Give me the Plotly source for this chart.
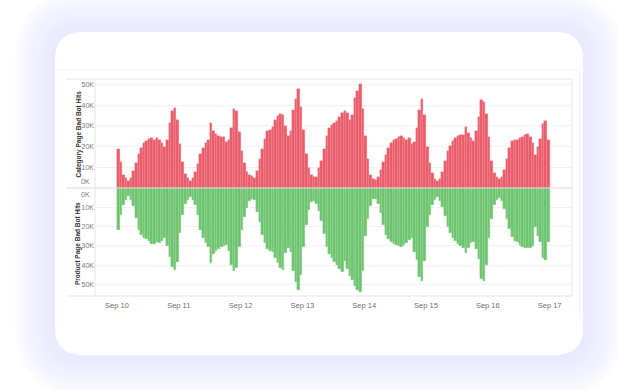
import pandas as pd
import plotly.graph_objects as go

# ---------------- data (thousands of hits, hourly, Sep 10 00:00 -> Sep 16 23:00) -------------
start_date = "2019-09-10 00:00"
n_hours = 168

category_hits_k = [
    # Sep 10
    18.7, 12.4, 6.5, 5.0, 3.4, 5.0, 8.1, 11.9, 16.4, 19.5, 21.5, 22.6, 23.6, 23.9, 23.4, 23.9, 23.1, 21.7, 19.6, 23.3, 31.5, 37.3, 38.5, 33.0,
    # Sep 11
    21.0, 12.5, 6.8, 4.8, 3.6, 5.0, 7.5, 11.5, 16.2, 19.5, 21.8, 23.0, 31.4, 27.6, 26.2, 25.3, 24.6, 24.6, 22.0, 23.2, 29.0, 38.0, 37.0, 27.0,
    # Sep 12
    18.0, 12.0, 7.5, 6.5, 5.6, 4.8, 8.0, 14.0, 19.0, 23.5, 27.5, 28.0, 29.5, 33.0, 34.6, 35.5, 35.0, 30.0, 25.0, 27.5, 37.5, 43.0, 47.6, 39.0,
    # Sep 13
    28.0, 16.5, 9.5, 6.3, 5.5, 5.5, 9.5, 13.0, 19.0, 25.0, 29.0, 30.5, 31.5, 32.5, 34.5, 36.0, 37.0, 36.0, 33.0, 35.0, 43.5, 46.8, 50.0, 38.0,
    # Sep 14
    25.0, 14.0, 6.5, 4.5, 4.0, 5.5, 8.5, 12.5, 16.0, 19.3, 21.7, 23.0, 23.8, 24.8, 25.1, 24.2, 23.4, 24.0, 21.0, 22.0, 29.0, 37.5, 43.0, 35.0,
    # Sep 15
    20.0, 12.0, 7.0, 4.5, 3.3, 4.5, 7.5, 12.8, 17.7, 20.2, 22.6, 23.9, 25.0, 25.5, 25.8, 29.5, 26.6, 24.2, 22.6, 27.4, 34.5, 42.6, 41.5, 35.5,
    # Sep 16
    24.5, 13.0, 7.2, 5.3, 4.4, 5.3, 8.5, 14.0, 19.3, 22.9, 23.4, 23.4, 24.3, 24.7, 25.4, 26.0, 24.5, 21.5, 15.9, 19.6, 23.6, 31.0, 32.4, 23.4,
]

product_hits_k = [
    # Sep 10
    21.7, 13.9, 9.0, 6.1, 4.3, 6.1, 9.5, 15.6, 21.7, 24.3, 25.7, 26.4, 27.4, 29.0, 29.0, 27.8, 28.6, 27.4, 26.0, 29.9, 35.6, 40.8, 42.5, 38.2,
    # Sep 11
    23.4, 13.9, 8.3, 6.1, 4.9, 6.1, 8.7, 13.9, 21.7, 26.0, 28.6, 30.4, 39.0, 34.0, 32.5, 31.5, 30.5, 30.0, 29.5, 32.5, 40.0, 43.2, 41.5, 30.4,
    # Sep 12
    21.7, 14.8, 10.4, 6.6, 5.6, 6.1, 12.2, 17.4, 24.3, 28.6, 31.6, 32.6, 33.3, 36.5, 39.0, 41.3, 42.5, 33.9, 31.3, 33.0, 43.0, 48.6, 53.0, 45.1,
    # Sep 13
    30.4, 19.0, 11.3, 7.5, 6.5, 8.5, 11.8, 17.0, 24.0, 30.5, 34.0, 36.5, 38.2, 40.0, 42.0, 43.5, 38.0, 42.0, 45.5, 47.5, 51.0, 53.0, 54.0, 43.0,
    # Sep 14
    25.0, 16.0, 9.5, 5.5, 5.5, 8.5, 13.0, 19.0, 24.3, 26.5, 28.0, 29.0, 29.5, 30.0, 30.4, 29.5, 28.6, 27.0, 26.0, 33.0, 37.5, 46.0, 48.0, 38.0,
    # Sep 15
    20.0, 14.0, 9.0, 6.0, 4.5, 6.5, 10.0, 14.5, 20.0, 23.5, 26.0, 27.5, 29.0, 30.0, 31.0, 33.5, 31.0, 28.5, 28.0, 31.5, 37.0, 47.0, 48.0, 40.0,
    # Sep 16
    26.0, 16.0, 9.0, 6.0, 5.0, 6.5, 11.0, 16.0, 21.0, 25.5, 27.5, 28.0, 29.5, 30.5, 31.0, 31.0, 31.0, 30.0, 20.0, 25.0, 28.0, 36.5, 37.5, 28.0,
]

x_tick_dates = ["2019-09-10", "2019-09-11", "2019-09-12", "2019-09-13",
                "2019-09-14", "2019-09-15", "2019-09-16", "2019-09-17"]
x_tick_labels = ["Sep 10", "Sep 11", "Sep 12", "Sep 13", "Sep 14", "Sep 15", "Sep 16", "Sep 17"]
y_tick_values = [10000, 20000, 30000, 40000, 50000]
y_tick_labels = ["10K", "20K", "30K", "40K", "50K"]
zero_label = "0K"
top_title = "Category Page Bad Bot Hits"
bottom_title = "Product Page Bad Bot Hits"

# ---------------- build -------------
W, H = 618, 390
hours = pd.date_range(start_date, periods=n_hours, freq="h")
category = [v * 1000 for v in category_hits_k]
product = [v * 1000 for v in product_hits_k]

RED = "#ea5a68"
RED_EDGE = "#f28c96"
GREEN = "#6cc36d"
GREEN_EDGE = "#98d698"
HOUR_MS = 3600 * 1000


def px_x(px):
    return px / W


def px_y(py):
    return 1 - py / H


def rrect(x0, y0, x1, y1, r):
    X = px_x
    Y = px_y
    return (f"M {X(x0 + r)},{Y(y0)} L {X(x1 - r)},{Y(y0)} Q {X(x1)},{Y(y0)} {X(x1)},{Y(y0 + r)} "
            f"L {X(x1)},{Y(y1 - r)} Q {X(x1)},{Y(y1)} {X(x1 - r)},{Y(y1)} "
            f"L {X(x0 + r)},{Y(y1)} Q {X(x0)},{Y(y1)} {X(x0)},{Y(y1 - r)} "
            f"L {X(x0)},{Y(y0 + r)} Q {X(x0)},{Y(y0)} {X(x0 + r)},{Y(y0)} Z")


fig = go.Figure()
fig.add_trace(go.Bar(x=hours, y=category, yaxis="y", xaxis="x",
                     marker=dict(color=RED, line=dict(width=0.4, color=RED_EDGE)),
                     offset=0, width=HOUR_MS, name=top_title,
                     hovertemplate="%{x}<br>%{y:,}<extra></extra>"))
fig.add_trace(go.Bar(x=hours, y=product, yaxis="y2", xaxis="x",
                     marker=dict(color=GREEN, line=dict(width=0.4, color=GREEN_EDGE)),
                     offset=0, width=HOUR_MS, name=bottom_title,
                     hovertemplate="%{x}<br>%{y:,}<extra></extra>"))

# plot geometry (pixels)
PL, PR, PT, PZ, PB = 95, 572, 79, 188, 296
HDR_L = 66

shapes = []
# soft glow: many faint stacked rounded rectangles
card = (55, 32, 583, 355)
for k in range(10, 0, -1):
    g = 4 * k
    shapes.append(dict(type="path",
                       path=rrect(card[0] - g, card[1] - g, card[2] + g, card[3] + g, 28 + g),
                       xref="paper", yref="paper",
                       fillcolor="rgba(228,229,251,0.11)", line=dict(width=0), layer="below"))
# card
shapes.append(dict(type="path", path=rrect(*card, 28), xref="paper", yref="paper",
                   fillcolor="#ffffff", line=dict(width=0), layer="below"))

line_col = "#e3e3e3"


def hline(py, x0, x1, col=line_col, w=1):
    shapes.append(dict(type="line", xref="paper", yref="paper", x0=px_x(x0), x1=px_x(x1),
                       y0=px_y(py), y1=px_y(py), line=dict(color=col, width=w), layer="above"))


def vline(px, y0, y1, col=line_col, w=1):
    shapes.append(dict(type="line", xref="paper", yref="paper", x0=px_x(px), x1=px_x(px),
                       y0=px_y(y0), y1=px_y(y1), line=dict(color=col, width=w), layer="above"))


# faint screenshot border
hline(70, 57, 580, "#f2f2f2")
vline(580, 70, 318, "#f2f2f2")
# frame
hline(PT, HDR_L, PR)
hline(PB, HDR_L, PR)
hline(PZ, HDR_L, PR, "#dcdcdc")
vline(PR, PT, PB)
vline(PL, PT, PB)

annotations = [
    dict(text=top_title, xref="paper", yref="paper", x=px_x(72), y=px_y((PT + PZ) / 2 + 1),
         textangle=-90, showarrow=False, font=dict(size=6.5, color="#333333", family="Liberation Sans", weight="bold")),
    dict(text=bottom_title, xref="paper", yref="paper", x=px_x(72), y=px_y((PZ + PB) / 2 + 2),
         textangle=-90, showarrow=False, font=dict(size=6.5, color="#333333", family="Liberation Sans", weight="bold")),
    dict(text=zero_label, xref="paper", yref="paper", x=px_x(92), y=px_y(PZ - 1), xanchor="right",
         yanchor="bottom", showarrow=False, font=dict(size=7, color="#7a7a7a", family="Liberation Sans")),
    dict(text=zero_label, xref="paper", yref="paper", x=px_x(92), y=px_y(PZ + 1), xanchor="right",
         yanchor="top", showarrow=False, font=dict(size=7, color="#7a7a7a", family="Liberation Sans")),
]

xr0 = pd.Timestamp(x_tick_dates[0]) - pd.Timedelta(days=(117 - PL) / 61.8)
xr1 = pd.Timestamp(x_tick_dates[0]) + pd.Timedelta(days=(PR - 117) / 61.8)

fig.update_layout(
    width=W, height=H, margin=dict(l=0, r=0, t=0, b=0),
    paper_bgcolor="#ffffff", plot_bgcolor="rgba(0,0,0,0)",
    showlegend=False, barmode="overlay", bargap=0,
    font=dict(family="Liberation Sans", color="#777777"),
    shapes=shapes, annotations=annotations,
    xaxis=dict(type="date", domain=[px_x(PL), px_x(PR)], anchor="y2", range=[xr0, xr1],
               tickvals=x_tick_dates, ticktext=x_tick_labels, ticks="", showgrid=False,
               showline=False, zeroline=False, ticklabelstandoff=3,
               tickfont=dict(size=7.5, color="#6f6f6f")),
    yaxis=dict(domain=[px_y(PZ), px_y(PT)], anchor="x", range=[0, 52600],
               tickvals=y_tick_values, ticktext=y_tick_labels, showgrid=True, gridcolor="#f1f1f1",
               gridwidth=1, zeroline=False, showline=False, ticks="",
               tickfont=dict(size=7, color="#7a7a7a")),
    yaxis2=dict(domain=[px_y(PB), px_y(PZ)], anchor="x", range=[56000, 0],
                tickvals=y_tick_values, ticktext=y_tick_labels, showgrid=True, gridcolor="#f1f1f1",
                gridwidth=1, zeroline=False, showline=False, ticks="",
                tickfont=dict(size=7, color="#7a7a7a")),
)

fig.write_html("out.html", config={"displayModeBar": False},
               post_script="document.body.style.margin='0';document.body.style.overflow='hidden';")
